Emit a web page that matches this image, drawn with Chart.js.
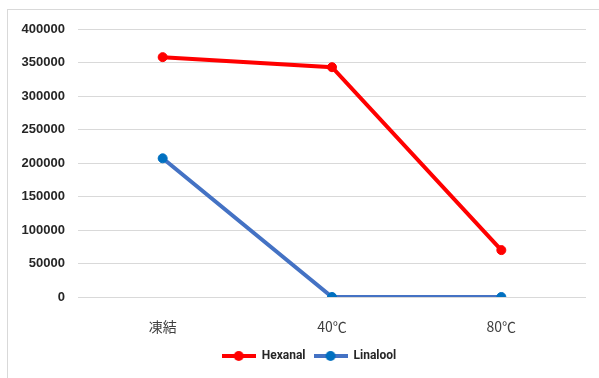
<!DOCTYPE html>
<html>
<head>
<meta charset="utf-8">
<script src="https://cdn.jsdelivr.net/npm/chart.js@4.4.0/dist/chart.umd.min.js"></script>
<style>
  html, body { margin: 0; padding: 0; background: #fff; }
  #frame { position: absolute; left: 7px; top: 9px; width: 620px; height: 400px; border: 1px solid #d9d9d9; }
  #wrap { position: absolute; left: 0; top: 0; width: 599px; height: 378px; }
</style>
</head>
<body>
<div id="frame"></div>
<div id="wrap"><canvas id="myChart"></canvas></div>
<script>
var categories = ["凍結", "40℃", "80℃"];
var hexanal = [358000, 343000, 70000];
var linalool = [207000, 0, 0];
var yTicks = [0, 50000, 100000, 150000, 200000, 250000, 300000, 350000, 400000];

// legend marker: line with a dot, like Excel
function marker(lineColor, dotColor) {
    var c = document.createElement("canvas");
    c.width = 34; c.height = 12;
    var g = c.getContext("2d");
    g.strokeStyle = lineColor;
    g.lineWidth = 4;
    g.beginPath(); g.moveTo(0, 6); g.lineTo(34, 6); g.stroke();
    g.fillStyle = dotColor;
    g.beginPath(); g.arc(17, 6, 5, 0, Math.PI * 2); g.fill();
    return c;
}
var legendMarks = [marker("#FF0000", "#FF0000"), marker("#4472C4", "#0070C0")];

// the legend sits a bit right of the canvas centre in the original
var nudgeLegend = {
    id: 'nudgeLegend',
    afterLayout: function (chart) { chart.legend.left += 32; }
};

new Chart(document.getElementById("myChart"), {
    type: 'line',
    data: {
        labels: categories,
        datasets: [{
            label: "Hexanal",
            data: hexanal,
            borderColor: "#FF0000",
            backgroundColor: "#FF0000",
            pointBackgroundColor: "#FF0000",
            pointBorderColor: "#FF0000",
            borderWidth: 4,
            pointBorderWidth: 1,
            pointRadius: 4.5,
            pointStyle: 'circle',
            fill: false
        }, {
            label: "Linalool",
            data: linalool,
            borderColor: "#4472C4",
            backgroundColor: "#0070C0",
            pointBackgroundColor: "#0070C0",
            pointBorderColor: "#0070C0",
            borderWidth: 4,
            pointBorderWidth: 1,
            pointRadius: 4.5,
            pointStyle: 'circle',
            fill: false
        }]
    },
    plugins: [nudgeLegend],
    options: {
        responsive: true,
        maintainAspectRatio: false,
        animation: false,
        layout: { padding: { top: 29, right: 13, bottom: 6, left: 0 } },
        scales: {
            x: {
                offset: true,
                grid: { display: false, drawTicks: false },
                border: { display: false },
                ticks: {
                    padding: 21,
                    color: "#404040",
                    font: { family: "'Noto Sans CJK JP', 'Liberation Sans'", size: 14 }
                },
                afterFit: function (s) { s.height = 45; }
            },
            y: {
                min: 0,
                max: 400000,
                afterBuildTicks: function (s) { s.ticks = yTicks.map(function (v) { return { value: v }; }); },
                grid: { color: "#d9d9d9", lineWidth: 1, drawTicks: false },
                border: { display: false },
                ticks: {
                    padding: 13,
                    color: "#262626",
                    font: { family: "'Liberation Sans'", size: 13, weight: 'bold' },
                    callback: function (v) { return String(v); }
                },
                afterFit: function (s) { s.width = 78; }
            }
        },
        plugins: {
            tooltip: { enabled: false },
            legend: {
                position: 'bottom',
                labels: {
                    usePointStyle: true,
                    pointStyleWidth: 34,
                    boxHeight: 12,
                    padding: 8,
                    color: "#262626",
                    font: { family: "Roboto", size: 12, weight: 'bold' },
                    generateLabels: function (chart) {
                        return chart.data.datasets.map(function (d, i) {
                            return {
                                text: d.label,
                                pointStyle: legendMarks[i],
                                fontColor: "#262626",
                                lineWidth: 0,
                                hidden: false,
                                datasetIndex: i
                            };
                        });
                    }
                }
            }
        }
    }
});
</script>
</body>
</html>
